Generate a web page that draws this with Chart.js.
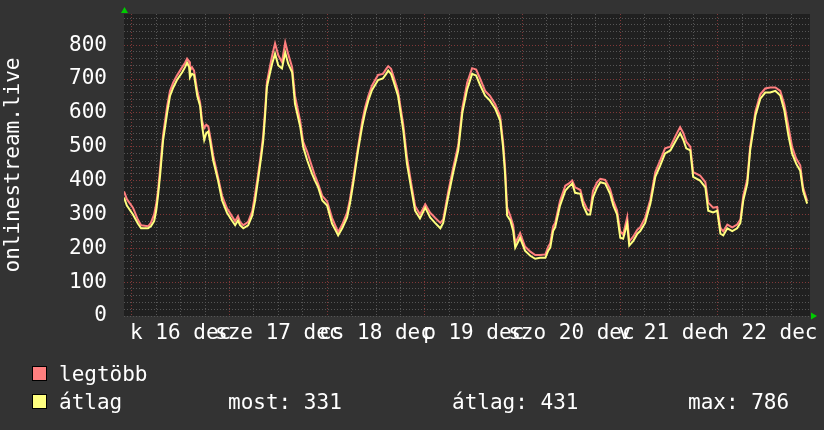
<!DOCTYPE html>
<html lang="hu">
<head>
  <meta charset="UTF-8">
  <title>onlinestream.live</title>
  <style>
    body { margin: 0; background: #333333; }
    #wrap { position: relative; width: 824px; height: 430px; }
    #chart { position: absolute; left: 0; top: 0; }
    .leg { position: absolute; font-family: 'DejaVu Sans Mono', monospace; font-size: 21px; color: #fff; line-height: 24px; white-space: pre; }
    .sw { position: absolute; width: 13px; height: 13px; border: 1px solid #000; }
  </style>
  <script src="https://cdn.jsdelivr.net/npm/chart.js"></script>
</head>
<body>
  <div id="wrap">
    <canvas id="chart" width="824" height="430"></canvas>
    <div class="sw" style="left:32px; top:366px; background:#ff7f7f;"></div>
    <div class="leg" style="left:59px; top:362px;">legtöbb</div>
    <div class="sw" style="left:32px; top:394px; background:#ffff7f;"></div>
    <div class="leg" style="left:59px; top:390px;">átlag</div>
    <div class="leg" style="left:228px; top:390px;">most: 331</div>
    <div class="leg" style="left:452px; top:390px;">átlag: 431</div>
    <div class="leg" style="left:688px; top:390px;">max: 786</div>
  </div>

  <script>
    // hours since 16 dec 00:00
    const hours = [
      -1.9, -1.2, 0.3, 1.5, 2.3, 4.0, 4.7, 5.5, 6.0, 6.5, 7.0, 7.7, 8.7, 9.4, 10.2, 11.1, 12.4, 13.1, 13.6, 14.1,
      14.3, 14.8, 15.3, 16.1, 16.8, 17.3, 17.8, 18.3, 18.8, 19.2, 20.0, 21.2, 22.2, 23.4, 24.6, 25.4, 26.1, 26.6, 27.4, 28.6,
      29.6, 30.3, 31.0, 31.8, 32.3, 32.8, 33.2, 34.0, 34.5, 35.2, 36.0, 36.9, 37.7, 38.4, 39.4, 40.1, 41.4, 42.1, 43.1, 44.3,
      45.0, 45.8, 46.8, 48.0, 49.2, 50.2, 50.7, 51.7, 52.9, 53.6, 54.4, 55.6, 56.6, 57.3, 58.1, 59.0, 60.5, 61.7, 62.5, 63.0,
      63.7, 64.2, 65.4, 66.7, 67.6, 68.6, 69.6, 70.8, 72.1, 73.3, 74.5, 75.8, 76.5, 77.7, 78.9, 80.2, 81.2, 82.4, 83.6, 84.6,
      85.6, 86.8, 88.0, 89.3, 90.5, 91.2, 91.7, 92.2, 93.0, 93.7, 94.2, 95.4, 96.6, 97.9, 99.1, 100.3, 101.6, 102.3, 102.8, 103.5,
      104.0, 105.2, 106.5, 107.2, 108.2, 108.9, 110.2, 110.9, 111.9, 112.6, 113.3, 114.3, 115.1, 116.3, 117.5, 118.3, 119.2, 120.0, 120.7, 121.7,
      122.2, 123.2, 124.2, 124.9, 126.1, 127.4, 128.6, 129.8, 131.0, 132.3, 133.7, 134.7, 135.5, 136.2, 137.2, 137.9, 139.6, 140.9, 141.6, 142.8,
      143.8, 144.6, 145.3, 146.3, 147.5, 148.7, 149.5, 150.2, 151.2, 151.9, 153.2, 154.4, 155.6, 156.8, 158.1, 159.3, 160.3, 161.3, 162.2, 163.2,
      164.2, 164.9, 165.9
    ];

    const avgValues = [
      350, 326, 300, 273, 259, 259, 265, 280, 310, 360, 420, 519, 600, 650, 675, 697, 720, 735, 748, 735,
      705, 715, 712, 650, 620, 560, 520, 540, 545, 520, 460, 400, 341, 305, 282, 268, 282, 268, 259, 268,
      297, 341, 400, 470, 519, 600, 676, 720, 746, 775, 740, 731, 778, 746, 720, 627, 558, 500, 460, 420,
      400, 380, 341, 326, 273, 250, 238, 259, 291, 332, 391, 489, 560, 600, 636, 667, 697, 702, 715, 725,
      715, 697, 651, 548, 450, 380, 311, 288, 320, 291, 275, 259, 275, 350, 420, 489, 600, 670, 715, 710,
      681, 651, 636, 612, 577, 500, 420, 297, 282, 251, 202, 231, 193, 178, 169, 172, 172, 193, 202, 251,
      262, 326, 370, 380, 391, 364, 361, 326, 300, 300, 350, 380, 395, 391, 361, 326, 300, 231, 228, 273,
      208, 222, 243, 251, 275, 332, 411, 444, 480, 489, 519, 540, 520, 495, 489, 411, 400, 380, 311, 306,
      311, 243, 238, 259, 251, 259, 275, 341, 391, 489, 592, 642, 660, 660, 665, 651, 607, 533, 480, 450,
      429, 370, 332
    ];

    const maxValues = [
      368, 345, 320, 285, 268, 265, 275, 300, 330, 375, 440, 535, 620, 665, 690, 710, 735, 748, 760, 752,
      725, 735, 725, 665, 630, 575, 555, 565, 560, 535, 475, 410, 355, 318, 295, 280, 295, 278, 268, 278,
      310, 360, 415, 485, 535, 615, 690, 740, 770, 805, 770, 750, 808, 775, 735, 650, 575, 515, 485, 440,
      415, 390, 355, 338, 290, 262, 248, 270, 305, 345, 405, 500, 575, 615, 650, 680, 712, 715, 730, 738,
      730, 712, 665, 565, 470, 395, 325, 300, 330, 305, 290, 275, 285, 365, 435, 505, 615, 690, 732, 728,
      700, 665, 650, 625, 590, 515, 440, 320, 295, 268, 215, 245, 205, 190, 180, 180, 182, 205, 215, 265,
      275, 340, 385, 390, 400, 380, 372, 340, 315, 310, 370, 395, 405, 402, 375, 340, 312, 250, 240, 292,
      220, 235, 255, 262, 290, 345, 425, 460, 495, 500, 535, 558, 540, 515, 500, 425, 415, 395, 335, 320,
      322, 260, 250, 270, 262, 270, 285, 355, 405, 500, 605, 655, 672, 675, 675, 665, 625, 560, 500, 465,
      445, 380, 340
    ];

    const dayLabels = ['k 16 dec', 'sze 17 dec', 'cs 18 dec', 'p 19 dec', 'szo 20 dec', 'v 21 dec', 'h 22 dec'];
    const xGrid = [];
    for (let h = 0; h <= 162; h += 6) xGrid.push(h);
    const yGrid = [];
    for (let v = 0; v <= 880; v += 20) yGrid.push(v);

    const font = { family: "'DejaVu Sans Mono', monospace", size: 21 };
    const gridGray = '#555555';
    const gridRed = '#803838';

    const plotDecor = {
      id: 'plotDecor',
      beforeDraw(chart) {
        const { ctx, chartArea: a } = chart;
        ctx.save();
        ctx.fillStyle = '#202020';
        ctx.fillRect(a.left, a.top, a.right - a.left, a.bottom - a.top);
        ctx.restore();
      },
      afterDraw(chart) {
        const { ctx, chartArea: a } = chart;
        ctx.save();
        ctx.fillStyle = '#00cc00';
        // arrow on y axis
        ctx.beginPath();
        ctx.moveTo(a.left - 3, a.top - 1);
        ctx.lineTo(a.left + 4, a.top - 1);
        ctx.lineTo(a.left + 0.5, a.top - 7);
        ctx.fill();
        // arrow on x axis
        ctx.beginPath();
        ctx.moveTo(a.right + 1, a.bottom - 3.5);
        ctx.lineTo(a.right + 1, a.bottom + 3.5);
        ctx.lineTo(a.right + 7, a.bottom);
        ctx.fill();
        ctx.restore();
      }
    };

    new Chart(document.getElementById('chart'), {
      type: 'line',
      data: {
        datasets: [
          {
            label: 'átlag',
            data: hours.map((h, i) => ({ x: h, y: avgValues[i] })),
            borderColor: '#ffff7f',
            borderWidth: 2,
            pointRadius: 0,
            tension: 0
          },
          {
            label: 'legtöbb',
            data: hours.map((h, i) => ({ x: h, y: maxValues[i] })),
            borderColor: '#ff7f7f',
            borderWidth: 2,
            pointRadius: 0,
            tension: 0
          }
        ]
      },
      options: {
        responsive: false,
        animation: false,
        layout: { padding: { top: 14, right: 14, left: 0, bottom: 0 } },
        plugins: { legend: { display: false }, tooltip: { enabled: false } },
        scales: {
          x: {
            type: 'linear',
            min: -1.9,
            max: 166.6,
            afterBuildTicks: s => { s.ticks = xGrid.map(v => ({ value: v })); },
            afterFit: s => { s.height = 114; s.paddingLeft = 0; s.paddingRight = 0; },
            ticks: {
              autoSkip: false,
              maxRotation: 0,
              color: '#ffffff',
              font: font,
              padding: 5,
              callback: v => (v % 24 === 12 ? dayLabels[(v - 12) / 24] : '')
            },
            grid: {
              drawTicks: false,
              color: c => (c.tick && c.tick.value % 24 === 0 ? gridRed : gridGray)
            },
            border: { display: false, dash: [1, 2] }
          },
          y: {
            min: 0,
            max: 892,
            afterBuildTicks: s => { s.ticks = yGrid.map(v => ({ value: v })); },
            afterFit: s => { s.width = 124; s.paddingTop = 0; s.paddingBottom = 0; },
            title: {
              display: true,
              text: 'onlinestream.live',
              color: '#ffffff',
              font: font,
              padding: { top: 1, bottom: 0 }
            },
            ticks: {
              autoSkip: false,
              color: '#ffffff',
              font: font,
              padding: 17,
              callback: v => (v % 100 === 0 ? v : '')
            },
            grid: {
              drawTicks: false,
              color: c => (c.tick && c.tick.value % 100 === 0 && c.tick.value > 0 ? gridRed : gridGray)
            },
            border: { display: false, dash: [1, 2] }
          }
        }
      },
      plugins: [plotDecor]
    });
  </script>
</body>
</html>
